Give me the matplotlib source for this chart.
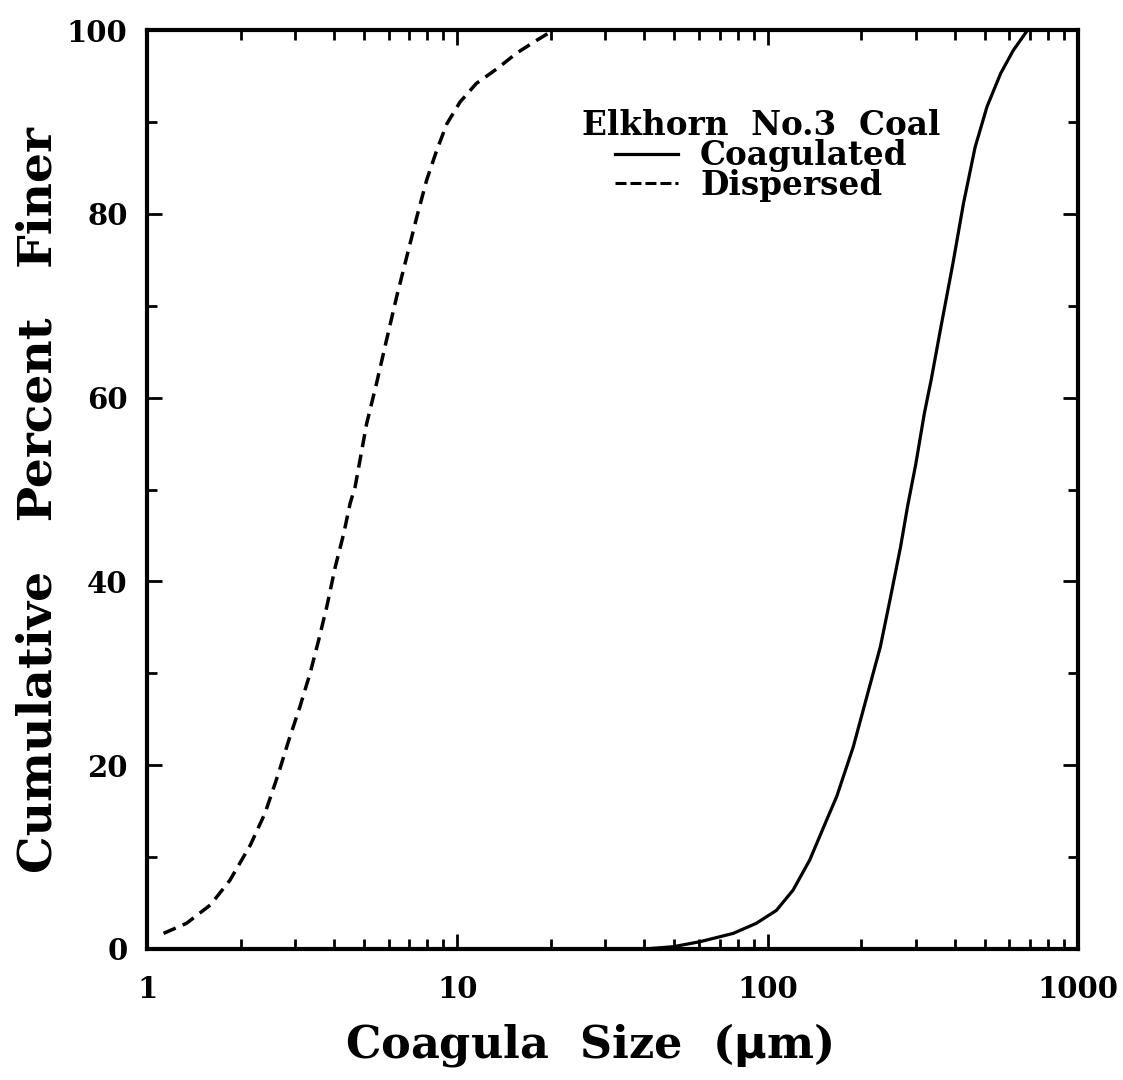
import matplotlib
matplotlib.use("Agg")
import matplotlib.pyplot as plt
from matplotlib.lines import Line2D
from matplotlib.ticker import FixedLocator, NullFormatter, LogLocator

# Data
disp_x = [1.13, 1.34, 1.60, 1.85, 2.15, 2.40, 2.65, 2.86, 3.11, 3.35, 3.57, 3.79, 4.04, 4.30, 4.51,
          4.68, 5.10, 5.49, 5.91, 6.37, 6.86, 7.40, 7.96, 8.57, 9.24, 10.2, 11.5, 13.4, 15.5, 18.0, 19.9]
disp_y = [1.7, 2.8, 4.8, 7.5, 11.3, 14.8, 19.1, 22.7, 26.4, 30.0, 33.6, 37.2, 41.6, 45.2, 48.5,
          50.3, 57.2, 61.6, 66.3, 71.0, 75.3, 79.7, 83.7, 86.9, 89.8, 92.2, 94.2, 95.8, 97.5, 98.9, 99.8]

coag_x = [40, 49.6, 60.6, 77.4, 91.9, 106.6, 120.6, 136.6, 154.6, 166.8, 188.6, 208.7, 230.6, 248.7,
          268, 281.9, 300, 319.6, 336, 360, 395, 427, 466, 509, 563, 618, 687]
coag_y = [0.0, 0.25, 0.8, 1.7, 2.8, 4.2, 6.4, 9.7, 14.0, 16.6, 22.0, 27.5, 32.9, 38.3,
          43.8, 48.1, 52.8, 58.3, 61.9, 67.4, 74.6, 81.1, 87.3, 91.7, 95.3, 97.8, 100.0]

x_ticks = [1, 10, 100, 1000]
x_ticklabels = ["1", "10", "100", "1000"]
y_ticks = [0, 20, 40, 60, 80, 100]

FONT = "DejaVu Serif"

fig = plt.figure(figsize=(11.23, 10.8), dpi=100)
ax = fig.add_axes([0.131, 0.1213, 0.829, 0.8507])

ax.plot(coag_x, coag_y, color="black", lw=2.3, ls="-")
ax.plot(disp_x, disp_y, color="black", lw=2.5, ls=(0, (3.8, 2.2)))

ax.set_xscale("log")
ax.set_xlim(1, 1000)
ax.set_ylim(0, 100)
ax.xaxis.set_major_locator(FixedLocator(x_ticks))
ax.set_xticklabels(x_ticklabels)
ax.xaxis.set_minor_locator(LogLocator(base=10, subs=range(2, 10)))
ax.xaxis.set_minor_formatter(NullFormatter())
ax.set_yticks(y_ticks)
ax.set_yticks(range(10, 100, 20), minor=True)

for s in ax.spines.values():
    s.set_linewidth(3.0)

ax.tick_params(which="both", direction="in", top=True, right=True, width=2.0)
ax.tick_params(which="major", length=11)
ax.tick_params(axis="x", which="major", pad=19)
ax.tick_params(axis="y", which="major", pad=14)
ax.tick_params(which="minor", length=7)
for lab in ax.get_xticklabels() + ax.get_yticklabels():
    lab.set_fontfamily(FONT)
    lab.set_fontweight("bold")
    lab.set_fontsize(21)

ax.set_xlabel("Coagula  Size  ($\\mathbf{\\mu}$m)", fontfamily=FONT, fontweight="bold", fontsize=32, labelpad=12)
ax.set_ylabel("Cumulative   Percent   Finer", fontfamily=FONT, fontweight="bold", fontsize=34, labelpad=4)
ax.xaxis.label.set_x(0.474)
ax.yaxis.label.set_y(0.489)

handles = [Line2D([], [], color="black", lw=2.3, ls="-"),
           Line2D([], [], color="black", lw=2.2, ls=(0, (3.6, 1.3)))]
leg = ax.legend(handles, ["Coagulated", "Dispersed"], title="Elkhorn  No.3  Coal",
                loc="upper center", bbox_to_anchor=(0.6595, 0.914),
                frameon=False, handlelength=1.95, handletextpad=0.67, labelspacing=-0.1,
                borderaxespad=0, borderpad=0,
                prop={"family": FONT, "weight": "bold", "size": 23.5})
leg.get_title().set_fontfamily(FONT)
leg.get_title().set_fontweight("bold")
leg.get_title().set_fontsize(23.5)

fig.savefig("out.png", dpi=100)
